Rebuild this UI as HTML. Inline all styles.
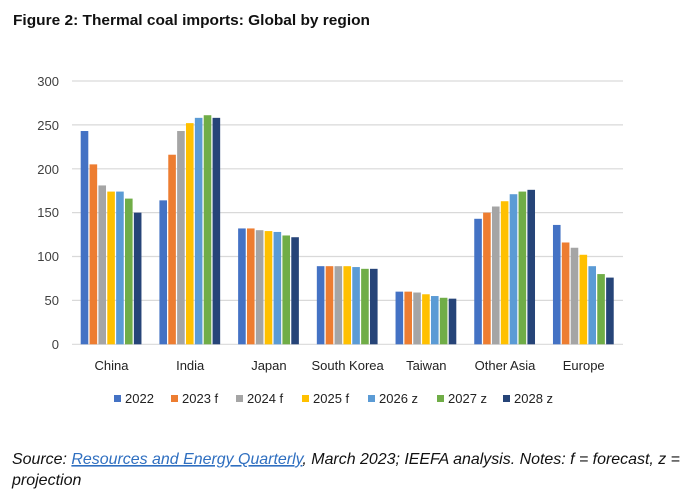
<!DOCTYPE html>
<html><head><meta charset="utf-8"><style>
html,body{margin:0;padding:0;background:#fff;width:695px;height:500px;overflow:hidden}
svg{display:block}
text{font-family:"Liberation Sans",sans-serif}
</style></head><body>
<svg id="s" width="695" height="500" viewBox="0 0 695 500" xmlns="http://www.w3.org/2000/svg">
<text x="13" y="25" font-size="15" font-weight="bold" fill="#111" textLength="357" lengthAdjust="spacingAndGlyphs">Figure 2: Thermal coal imports: Global by region</text>
<g stroke="#d9d9d9" stroke-width="1.2">
<line x1="72" x2="623" y1="81" y2="81"/>
<line x1="72" x2="623" y1="124.9" y2="124.9"/>
<line x1="72" x2="623" y1="168.8" y2="168.8"/>
<line x1="72" x2="623" y1="212.6" y2="212.6"/>
<line x1="72" x2="623" y1="256.5" y2="256.5"/>
<line x1="72" x2="623" y1="300.4" y2="300.4"/>
<line x1="72" x2="623" y1="344.3" y2="344.3"/>
</g>
<g font-size="13" fill="#404040" text-anchor="end">
<text x="59" y="86">300</text>
<text x="59" y="130">250</text>
<text x="59" y="174">200</text>
<text x="59" y="217">150</text>
<text x="59" y="261">100</text>
<text x="59" y="305">50</text>
<text x="59" y="349">0</text>
</g>
<g id="bars"></g>
<g font-size="13" fill="#222" text-anchor="middle">
<text x="111.5" y="370">China</text>
<text x="190.2" y="370">India</text>
<text x="268.9" y="370">Japan</text>
<text x="347.6" y="370">South Korea</text>
<text x="426.3" y="370">Taiwan</text>
<text x="505" y="370">Other Asia</text>
<text x="583.7" y="370">Europe</text>
</g>
<g font-size="13" fill="#222">
<rect x="114" y="395" width="7" height="7" fill="#4472C4"/><text x="125" y="403">2022</text>
<rect x="171" y="395" width="7" height="7" fill="#ED7D31"/><text x="182" y="403">2023 f</text>
<rect x="236" y="395" width="7" height="7" fill="#A5A5A5"/><text x="247" y="403">2024 f</text>
<rect x="302" y="395" width="7" height="7" fill="#FFC000"/><text x="313" y="403">2025 f</text>
<rect x="368" y="395" width="7" height="7" fill="#5B9BD5"/><text x="379" y="403">2026 z</text>
<rect x="437" y="395" width="7" height="7" fill="#70AD47"/><text x="448" y="403">2027 z</text>
<rect x="503" y="395" width="7" height="7" fill="#264478"/><text x="514" y="403">2028 z</text>
</g>
<g font-size="16" font-style="italic" fill="#111">
<text x="12" y="464" textLength="668" lengthAdjust="spacingAndGlyphs">Source: <tspan fill="#2f6fc0" text-decoration="underline">Resources and Energy Quarterly</tspan>, March 2023; IEEFA analysis. Notes: f = forecast, z =</text>
<text x="12" y="485">projection</text>
</g>
</svg>
<script>
var d=[[243,205,181,174,174,166,150],[164,216,243,252,258,261,258],[132,132,130,129,128,124,122],[89,89,89,89,88,86,86],[60,60,59,57,55,53,52],[143,150,157,163,171,174,176],[136,116,110,102,89,80,76]];
var c=["#4472C4","#ED7D31","#A5A5A5","#FFC000","#5B9BD5","#70AD47","#264478"];
var g=document.getElementById("bars"),h="";
for(var i=0;i<7;i++)for(var j=0;j<7;j++){var x=80.7+i*78.71+j*8.86,v=d[i][j],y=344.3-v*0.8777;
h+='<rect x="'+x.toFixed(2)+'" y="'+y.toFixed(2)+'" width="7.6" height="'+(344.3-y).toFixed(2)+'" fill="'+c[j]+'"/>';}
g.innerHTML=h;
</script>
</body></html>
